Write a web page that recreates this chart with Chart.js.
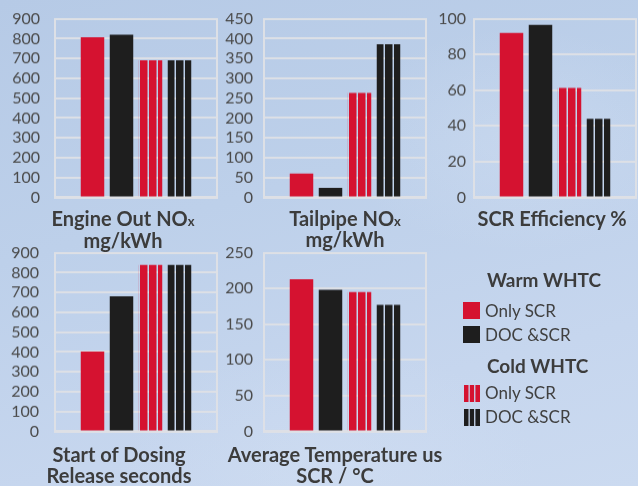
<!DOCTYPE html>
<html>
<head>
<meta charset="utf-8">
<script src="https://cdn.jsdelivr.net/npm/chart.js@4/dist/chart.umd.min.js"></script>
<style>
  html, body { margin: 0; padding: 0; }
  #stage {
    position: relative; width: 638px; height: 486px; overflow: hidden;
    background:
      radial-gradient(ellipse 260px 160px at 520px 140px, rgba(214,226,244,0.35), rgba(214,226,244,0) 70%),
      radial-gradient(ellipse 300px 180px at 330px 470px, rgba(214,226,244,0.35), rgba(214,226,244,0) 70%),
      linear-gradient(165deg, #b6cae6 0%, #bdd0ea 40%, #c6d6ee 75%, #cbdaf0 100%);
    font-family: Lato, "Open Sans", sans-serif;
  }
  #stage canvas { position: absolute; }
  #labels { position: absolute; left: 0; top: 0; }
</style>
</head>
<body>
<div id="stage">
  <canvas id="c0"></canvas>
  <canvas id="c1"></canvas>
  <canvas id="c2"></canvas>
  <canvas id="c3"></canvas>
  <canvas id="c4"></canvas>
  <svg id="labels" width="638" height="486" xmlns="http://www.w3.org/2000/svg"></svg>
</div>
<script>
// ---- data ----
const titleMain  = ['Engine Out NO', 'Tailpipe NO', 'SCR Efficiency %', 'Start of Dosing', 'Average Temperature us'];
const titleSub   = ['x', 'x', '', '', ''];
const titleLine2 = ['mg/kWh', 'mg/kWh', '', 'Release seconds', 'SCR / °C'];

const yMax  = [900, 450, 100, 900, 250];
const yStep = [100, 50, 20, 100, 50];

const seriesNames = ['Only SCR', 'DOC &SCR', 'Only SCR', 'DOC &SCR'];
const groupNames  = ['Warm WHTC', 'Cold WHTC'];

const warmOnlySCR = [807, 60, 92, 402, 213];
const warmDocSCR  = [820, 24, 96.5, 680, 198];
const coldOnlySCR = [690, 263, 61.3, 838, 195];
const coldDocSCR  = [690, 386, 44, 838, 177];

// ---- look & layout ----
const RED = '#d51230';
const BLACK = '#1e1e1e';
const GRID = 'rgba(222,224,230,0.95)';
const TICK_COLOR = '#4a4a4a';
const TITLE_COLOR = '#3c3c3c';
const FONT = 'Lato, "Open Sans", sans-serif';

// plot rectangle of each panel on the page
const panels = [
  { L: 55,  R: 217, T: 19,  B: 197, pad: 15, tx: 123, ty: [226, 248] },
  { L: 264, R: 426, T: 19,  B: 197, pad: 11, tx: 345, ty: [226, 247] },
  { L: 474, R: 636, T: 19,  B: 197, pad: 8,  tx: 552, ty: [226] },
  { L: 55,  R: 217, T: 253, B: 431, pad: 16, tx: 119, ty: [462, 483] },
  { L: 264, R: 426, T: 253, B: 431, pad: 11, tx: 335, ty: [462, 483] }
];
const AXIS_W = 50;

// vertical-gap stripe fill used for the cold-start bars
function stripes(color) {
  const c = document.createElement('canvas');
  c.width = 18; c.height = 2;
  const g = c.getContext('2d');
  g.fillStyle = color;
  g.fillRect(0, 0, 15, 2);
  const p = g.createPattern(c, 'repeat');
  p.setTransform(new DOMMatrix([0.5, 0, 0, 1, 0, 0]));
  return p;
}

// plot frame around each chart area
const frame = {
  id: 'frame',
  beforeDatasetsDraw(chart) {
    const a = chart.chartArea, ctx = chart.ctx;
    ctx.save();
    ctx.strokeStyle = GRID;
    ctx.lineWidth = 2;
    ctx.strokeRect(Math.round(a.left), Math.round(a.top), Math.round(a.right - a.left), Math.round(a.bottom - a.top));
    ctx.restore();
  }
};

Chart.defaults.font.family = FONT;

function build(cv, i, p) {
  const values = [warmOnlySCR[i], warmDocSCR[i], coldOnlySCR[i], coldDocSCR[i]];
  const fills = [RED, BLACK, stripes(RED), stripes(BLACK)];
  return new Chart(cv, {
    type: 'bar',
    data: {
      labels: [titleMain[i] + titleSub[i]],
      datasets: values.map((v, k) => ({
        label: groupNames[k < 2 ? 0 : 1] + ' ' + seriesNames[k],
        data: [v],
        backgroundColor: fills[k],
        borderWidth: 0,
        categoryPercentage: 0.716,
        barPercentage: 0.81
      }))
    },
    options: {
      responsive: false,
      maintainAspectRatio: false,
      animation: false,
      devicePixelRatio: 1,
      layout: { padding: { top: 12, bottom: 10, right: 3, left: 0 } },
      plugins: { legend: { display: false }, tooltip: { enabled: false } },
      scales: {
        x: { display: false },
        y: {
          min: 0, max: yMax[i],
          ticks: { stepSize: yStep[i], autoSkip: false, padding: p.pad, color: TICK_COLOR, font: { size: 16 } },
          grid: { color: GRID, lineWidth: 2, drawTicks: false },
          border: { display: false },
          afterFit(s) { s.width = AXIS_W; }
        }
      }
    },
    plugins: [frame]
  });
}

panels.forEach((p, i) => {
  const cv = document.getElementById('c' + i);
  // first pass: find how much room the axis and padding take
  const w0 = 260, h0 = 240;
  cv.width = w0; cv.height = h0;
  let ch = build(cv, i, p);
  const a0 = ch.chartArea;
  const extraW = w0 - (a0.right - a0.left);
  const extraH = h0 - (a0.bottom - a0.top);
  ch.destroy();
  // second pass: size the canvas so the plot area is exactly the panel rectangle
  const w = (p.R - p.L) + extraW, h = (p.B - p.T) + extraH;
  cv.width = w; cv.height = h;
  cv.style.width = w + 'px'; cv.style.height = h + 'px';
  ch = build(cv, i, p);
  const a = ch.chartArea;
  cv.style.left = (p.L - a.left) + 'px';
  cv.style.top = (p.T - a.top) + 'px';
});

// ---- titles and legend ----
const NS = 'http://www.w3.org/2000/svg';
const svg = document.getElementById('labels');
function text(x, y, str, opts) {
  const t = document.createElementNS(NS, 'text');
  t.setAttribute('x', x); t.setAttribute('y', y);
  t.setAttribute('font-family', FONT);
  t.setAttribute('font-size', opts.size);
  t.setAttribute('font-weight', opts.weight || 400);
  t.setAttribute('fill', opts.fill || TITLE_COLOR);
  if (opts.anchor) t.setAttribute('text-anchor', opts.anchor);
  t.textContent = str;
  if (opts.sub) {
    const s = document.createElementNS(NS, 'tspan');
    s.setAttribute('font-size', 13);
    s.textContent = opts.sub;
    t.appendChild(s);
  }
  svg.appendChild(t);
}
function rect(x, y, w, h, fill) {
  const r = document.createElementNS(NS, 'rect');
  r.setAttribute('x', x); r.setAttribute('y', y);
  r.setAttribute('width', w); r.setAttribute('height', h);
  r.setAttribute('fill', fill);
  svg.appendChild(r);
}

panels.forEach((p, i) => {
  text(p.tx, p.ty[0], titleMain[i], { size: 20, weight: 700, anchor: 'middle', sub: titleSub[i] });
  if (titleLine2[i]) text(p.tx, p.ty[1], titleLine2[i], { size: 20, weight: 700, anchor: 'middle' });
});

// legend
text(487, 287, groupNames[0], { size: 19, weight: 700 });
rect(463, 302, 17, 17, RED);
text(485, 317, seriesNames[0], { size: 17, fill: '#404040' });
rect(463, 326, 17, 17, BLACK);
text(485, 341, seriesNames[1], { size: 17, fill: '#404040' });

text(487, 373, groupNames[1], { size: 19, weight: 700 });
[[385, RED], [409, BLACK]].forEach(([y, c], k) => {
  rect(464, y, 4.5, 17, c);
  rect(469.8, y, 4.3, 17, c);
  rect(475.4, y, 4.6, 17, c);
  text(485, y + 14, seriesNames[2 + k], { size: 17, fill: '#404040' });
});
</script>
</body>
</html>
